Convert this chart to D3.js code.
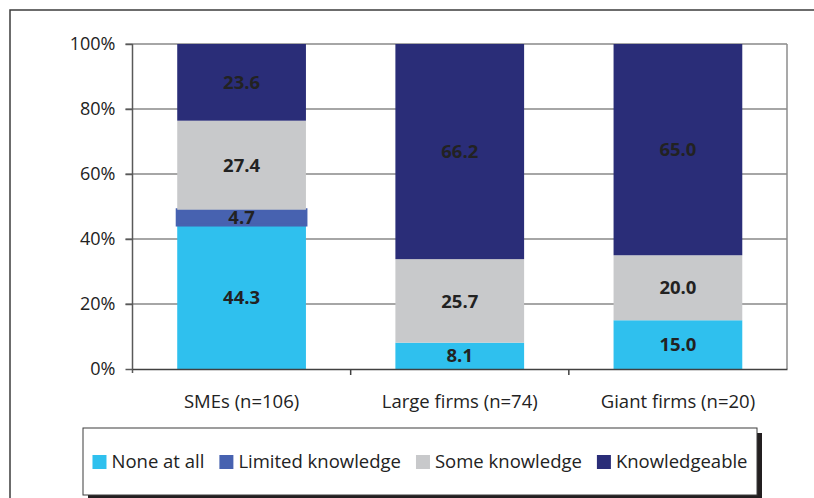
<!DOCTYPE html>
<html>
<head>
<meta charset="utf-8">
<script src="https://cdn.jsdelivr.net/npm/d3@7"></script>
<style>
  body { margin: 0; background: #fff; }
  svg { display: block; font-family: "Open Sans", "Noto Sans", sans-serif; }
</style>
</head>
<body>
<script>
// categories and series (percent of firms)
let categories = ["SMEs (n=106)", "Large firms (n=74)", "Giant firms (n=20)"];
let seriesNames = ["None at all", "Limited knowledge", "Some knowledge", "Knowledgeable"];
let noneAtAll = [44.3, 8.1, 15.0];
let limited = [4.7, 0, 0];
let some = [27.4, 25.7, 20.0];
let knowledgeable = [23.6, 66.2, 65.0];
let yTicks = [0, 20, 40, 60, 80, 100];
let colors = ["#2fc0ee", "#4762b0", "#c8c9cb", "#2a2d78"];

let width = 814, height = 498;
let margin = { top: 44, right: 27, bottom: 129, left: 132.5 };

// build rows for the stack
let rows = categories.map((c, i) => ({
    cat: c,
    "None at all": noneAtAll[i],
    "Limited knowledge": limited[i],
    "Some knowledge": some[i],
    "Knowledgeable": knowledgeable[i]
}));

let stacked = d3.stack().keys(seriesNames)(rows);

let svg = d3.select("body").append("svg")
    .attr("width", width)
    .attr("height", height);

// outer frame (top and left edges)
svg.append("path")
    .attr("d", `M10,${height} L10,10 L${width},10`)
    .attr("fill", "none")
    .attr("stroke", "#3c3c3c")
    .attr("stroke-width", 1.5);

let xScale = d3.scaleBand()
    .domain(categories)
    .range([margin.left, width - margin.right])
    .paddingInner(0.41)
    .paddingOuter(0.205);

let yScale = d3.scaleLinear()
    .domain([0, 100])
    .range([height - margin.bottom, margin.top]);

// gridlines
svg.append("g")
    .selectAll("line")
    .data(yTicks.filter(d => d > 0))
    .join("line")
    .attr("x1", margin.left - 7)
    .attr("x2", width - margin.right)
    .attr("y1", d => yScale(d))
    .attr("y2", d => yScale(d))
    .attr("stroke", "#a6a6a6")
    .attr("stroke-width", 2);

// right edge of plot
svg.append("line")
    .attr("x1", width - margin.right).attr("x2", width - margin.right)
    .attr("y1", yScale(100)).attr("y2", yScale(0))
    .attr("stroke", "#8c8c8c")
    .attr("stroke-width", 1.5);

// bars
let layers = svg.append("g")
    .selectAll("g")
    .data(stacked)
    .join("g")
    .attr("fill", (d, i) => colors[i]);

layers.selectAll("rect")
    .data(d => d.filter(s => s[1] - s[0] > 0).map(s => ({ s, key: d.key })))
    .join("rect")
    .attr("x", d => xScale(d.s.data.cat))
    .attr("width", xScale.bandwidth())
    .attr("y", d => yScale(d.s[1]))
    .attr("height", d => yScale(d.s[0]) - yScale(d.s[1]))
    .attr("stroke", (d) => d.key === "Limited knowledge" ? colors[1] : "none")
    .attr("stroke-width", 3);

// value labels
let labels = [];
stacked.forEach(layer => {
    layer.forEach(s => {
        let v = s[1] - s[0];
        if (v > 0) labels.push({ cat: s.data.cat, mid: (s[0] + s[1]) / 2, v });
    });
});

svg.append("g")
    .selectAll("text")
    .data(labels)
    .join("text")
    .attr("x", d => xScale(d.cat) + xScale.bandwidth() / 2)
    .attr("y", d => yScale(d.mid))
    .attr("dy", "0.36em")
    .attr("text-anchor", "middle")
    .attr("font-size", 18.5)
    .attr("font-weight", "bold")
    .attr("fill", "#222")
    .text(d => d3.format(".1f")(d.v));

// y axis
let yAxis = d3.axisLeft(yScale)
    .tickValues(yTicks)
    .tickFormat(d => d + "%")
    .tickSize(7)
    .tickPadding(10);

let gy = svg.append("g")
    .attr("transform", `translate(${margin.left},0)`)
    .call(yAxis);
gy.select(".domain").attr("stroke", "#595959").attr("stroke-width", 1.5)
    .attr("d", `M0,${yScale(0) + 4}V${yScale(100)}`);
gy.selectAll(".tick line").attr("stroke", "#595959").attr("stroke-width", 1.5);
gy.selectAll(".tick text").attr("font-size", 18).attr("fill", "#222")
    .style("font-family", "'Open Sans', sans-serif");

// x axis
let xAxis = d3.axisBottom(xScale).tickSize(0).tickPadding(26);
let gx = svg.append("g")
    .attr("transform", `translate(0,${yScale(0)})`)
    .call(xAxis);
gx.select(".domain").attr("stroke", "#404040").attr("stroke-width", 1.5);
gx.selectAll(".tick text").attr("font-size", 18.5).attr("fill", "#222")
    .style("font-family", "'Open Sans', sans-serif");

// category separators
let bounds = categories.slice(1).map(c => xScale(c) - xScale.step() * xScale.paddingInner() / 2);
svg.append("g")
    .selectAll("line")
    .data(bounds)
    .join("line")
    .attr("x1", d => d).attr("x2", d => d)
    .attr("y1", yScale(0)).attr("y2", yScale(0) + 6)
    .attr("stroke", "#404040")
    .attr("stroke-width", 1.5);

// legend
let lg = { x: 83, y: 428, w: 674, h: 67 };
svg.append("rect")
    .attr("x", lg.x + 5).attr("y", lg.y + 5)
    .attr("width", lg.w).attr("height", lg.h)
    .attr("fill", "#231f20");
svg.append("rect")
    .attr("x", lg.x).attr("y", lg.y)
    .attr("width", lg.w).attr("height", lg.h)
    .attr("fill", "#fff")
    .attr("stroke", "#3c3c3c")
    .attr("stroke-width", 1);

let legend = svg.append("g");
let items = legend.selectAll("g")
    .data(seriesNames)
    .join("g");
items.append("rect")
    .attr("width", 14).attr("height", 14)
    .attr("y", -7)
    .attr("fill", (d, i) => colors[i]);
items.append("text")
    .attr("x", 19)
    .attr("dy", "0.35em")
    .attr("font-size", 18.5)
    .attr("fill", "#222")
    .text(d => d);

let xpos = 0;
items.each(function () {
    let w = this.getBBox().width;
    d3.select(this).attr("data-x", xpos);
    xpos += w + 15;
});
let totalW = xpos - 15;
let startX = lg.x + lg.w / 2 - totalW / 2;
items.attr("transform", function () {
    return `translate(${startX + +d3.select(this).attr("data-x")},${lg.y + 34})`;
});
</script>
</body>
</html>
